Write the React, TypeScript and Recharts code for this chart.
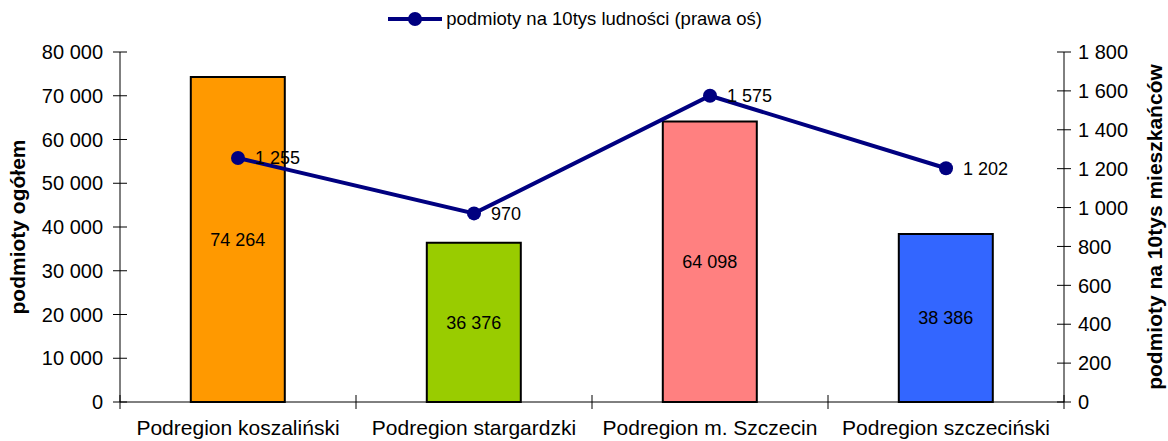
import {
  Bar,
  Cell,
  ComposedChart,
  LabelList,
  Line,
  XAxis,
  YAxis,
} from "recharts";

const FONT = "'Liberation Sans', Arial, sans-serif";
const NAVY = "#000080";

const categories = [
  "Podregion koszaliński",
  "Podregion stargardzki",
  "Podregion m. Szczecin",
  "Podregion szczeciński",
];
const entities = [74264, 36376, 64098, 38386];
const perTenThousand = [1255, 970, 1575, 1202];
const barColors = ["#FF9900", "#99CC00", "#FF8080", "#3366FF"];
const leftTicks = [0, 10000, 20000, 30000, 40000, 50000, 60000, 70000, 80000];
const rightTicks = [0, 200, 400, 600, 800, 1000, 1200, 1400, 1600, 1800];

const data = categories.map((name, i) => ({
  name,
  ogolem: entities[i],
  na10tys: perTenThousand[i],
}));

const WIDTH = 1168;
const HEIGHT = 441;
const LEFT_W = 120;
const RIGHT_W = 104;
const TOP = 52;
const BOTTOM = 39;
const BAND = (WIDTH - LEFT_W - RIGHT_W) / categories.length;

// spacja jako separator tysięcy
function fmt(v: number | string) {
  return String(v).replace(/\B(?=(\d{3})+(?!\d))/g, " ");
}

function LeftTick({ x, y, payload }: any) {
  return (
    <g>
      <line x1={x - 7} x2={x + 7} y1={y} y2={y} stroke="#000" />
      <text x={x - 17} y={y} dy="0.36em" textAnchor="end" fontSize={20} fontFamily={FONT} fill="#000">
        {fmt(payload.value)}
      </text>
    </g>
  );
}

function RightTick({ x, y, payload }: any) {
  return (
    <g>
      <line x1={x - 7} x2={x + 7} y1={y} y2={y} stroke="#000" />
      <text x={x + 14} y={y} dy="0.36em" textAnchor="start" fontSize={20} fontFamily={FONT} fill="#000">
        {fmt(payload.value)}
      </text>
    </g>
  );
}

function CategoryTick({ x, y, payload, index }: any) {
  const left = x - BAND / 2;
  return (
    <g>
      <line x1={left} x2={left} y1={y - 7} y2={y + 7} stroke="#000" />
      {index === categories.length - 1 && (
        <line x1={x + BAND / 2} x2={x + BAND / 2} y1={y - 7} y2={y + 7} stroke="#000" />
      )}
      <text x={x} y={y + 33} textAnchor="middle" fontSize={21} fontFamily={FONT} fill="#000">
        {payload.value}
      </text>
    </g>
  );
}

function LegendBox() {
  return (
    <div
      style={{
        position: "absolute",
        top: 8,
        left: 0,
        width: WIDTH,
        display: "flex",
        justifyContent: "center",
        alignItems: "center",
        fontFamily: FONT,
        fontSize: 18.5,
        color: "#000",
      }}
    >
      <svg width={58} height={20} style={{ marginRight: 2, marginLeft: -20 }}>
        <line x1={2} x2={56} y1={10} y2={10} stroke={NAVY} strokeWidth={4} />
        <circle cx={29} cy={10} r={7} fill={NAVY} />
      </svg>
      <span>podmioty na 10tys ludności (prawa oś)</span>
    </div>
  );
}

export default function App() {
  const titleStyle = {
    textAnchor: "middle" as const,
    fontWeight: "bold",
    fontSize: 21,
    fontFamily: FONT,
    fill: "#000",
  };
  return (
    <div style={{ position: "absolute", left: 0, top: 0, width: WIDTH, height: HEIGHT, background: "#fff" }}>
      <LegendBox />
      <ComposedChart
        width={WIDTH}
        height={HEIGHT}
        data={data}
        margin={{ top: TOP, right: 0, bottom: 0, left: 0 }}
        barCategoryGap="30%"
      >
        <XAxis
          dataKey="name"
          height={BOTTOM}
          stroke="#000"
          tickLine={false}
          tickSize={0}
          tickMargin={0}
          tick={<CategoryTick />}
          interval={0}
        />
        <YAxis
          yAxisId="left"
          width={LEFT_W}
          domain={[0, 80000]}
          ticks={leftTicks}
          stroke="#000"
          tickLine={false}
          tickSize={0}
          tickMargin={0}
          tick={<LeftTick />}
          interval={0}
          label={{ value: "podmioty ogółem", angle: -90, position: "insideLeft", offset: 18, style: titleStyle }}
        />
        <YAxis
          yAxisId="right"
          orientation="right"
          width={RIGHT_W}
          domain={[0, 1800]}
          ticks={rightTicks}
          stroke="#000"
          tickLine={false}
          tickSize={0}
          tickMargin={0}
          tick={<RightTick />}
          interval={0}
          label={{
            value: "podmioty na 10tys mieszkańców",
            angle: -90,
            position: "insideRight",
            offset: 13,
            style: titleStyle,
          }}
        />
        <Bar yAxisId="left" dataKey="ogolem" stroke="#000" strokeWidth={2} isAnimationActive={false}>
          {data.map((_, i) => (
            <Cell key={i} fill={barColors[i]} />
          ))}
          <LabelList
            dataKey="ogolem"
            position="center"
            formatter={(v: any) => fmt(v)}
            style={{ fontSize: 18, fontFamily: FONT, fill: "#000" }}
          />
        </Bar>
        <Line
          yAxisId="right"
          dataKey="na10tys"
          stroke={NAVY}
          strokeWidth={4}
          dot={{ r: 7, fill: NAVY, stroke: NAVY, strokeWidth: 0 }}
          activeDot={false}
          isAnimationActive={false}
        >
          <LabelList
            dataKey="na10tys"
            position="right"
            offset={17}
            formatter={(v: any) => fmt(v)}
            style={{ fontSize: 18, fontFamily: FONT, fill: "#000" }}
          />
        </Line>
      </ComposedChart>
    </div>
  );
}
